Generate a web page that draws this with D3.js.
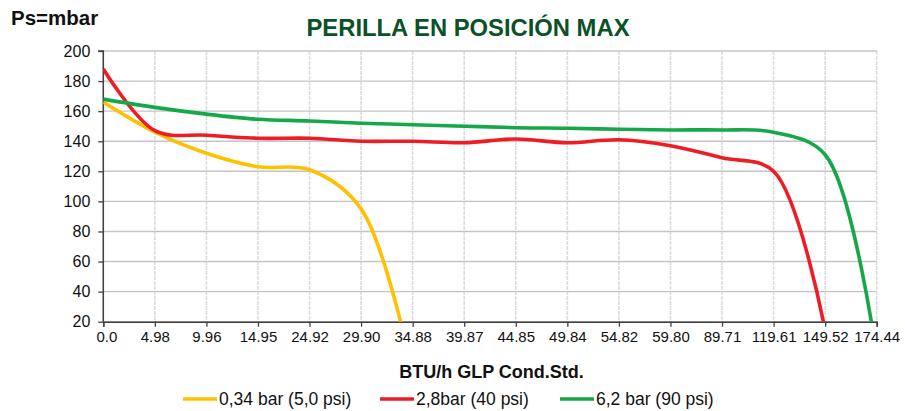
<!DOCTYPE html>
<html><head><meta charset="utf-8">
<script src="https://cdn.jsdelivr.net/npm/d3@7/dist/d3.min.js"></script>
<style>
html,body{margin:0;padding:0;background:#fff;}
svg{display:block;font-family:"Liberation Sans",Arial,sans-serif;}
</style></head>
<body>
<svg id="chart" width="905" height="411"></svg>
<script>
const categories = ["0.0","4.98","9.96","14.95","24.92","29.90","34.88","39.87","44.85","49.84","54.82","59.80","89.71","119.61","149.52","174.44"];
const yTicks = [20,40,60,80,100,120,140,160,180,200];
const seriesNames = ["0,34 bar (5,0 psi)","2,8bar (40 psi)","6,2 bar (90 psi)"];
const seriesColors = ["#FFC000","#EE1C25","#14A84A"];
const yellowValues = [166,146,132,123,121,95,-14];
const redValues = [188,147,144,142,142,140,140,139,141.5,139,141,137,129,120,14];
const greenValues = [168,162.5,158,154.6,153.5,152,151,150,149,148.6,148,147.5,147.5,146,131,-3];
const allSeries = [yellowValues, redValues, greenValues];

const svg = d3.select("#chart");
const L = 103.3, R = 876.7, T = 51, B = 321.7;
const x = d3.scaleLinear().domain([0, categories.length-1]).range([L, R]);
const y = d3.scaleLinear().domain([20, 200]).range([B, T]);

// grid
svg.append("g").selectAll("line").data(categories.map((c,i)=>i)).join("line")
  .attr("x1", d=>x(d)).attr("x2", d=>x(d)).attr("y1", T).attr("y2", B)
  .attr("stroke","#dcdcdc").attr("stroke-width",1.6).attr("stroke-dasharray","4,1");
svg.append("g").selectAll("line").data(yTicks).join("line")
  .attr("x1", L).attr("x2", R).attr("y1", d=>y(d)).attr("y2", d=>y(d))
  .attr("stroke","#c4c4c4").attr("stroke-width",1.4);

// axes
const yAxis = svg.append("g").attr("transform",`translate(${L},0)`)
  .call(d3.axisLeft(y).tickValues(yTicks).tickSize(5).tickPadding(8));
const xAxis = svg.append("g").attr("transform",`translate(0,${B})`)
  .call(d3.axisBottom(x).tickValues(categories.map((c,i)=>i)).tickFormat(i=>categories[i]).tickSize(5).tickPadding(5));
[yAxis,xAxis].forEach(a=>{
  a.select(".domain").attr("stroke","#404040").attr("stroke-width",1.5);
  a.selectAll(".tick line").attr("stroke","#404040").attr("stroke-width",1.3);
  a.selectAll("text").attr("fill","#111").attr("font-family","Liberation Sans, Arial, sans-serif");
});
yAxis.select(".domain").attr("d",`M-5,${T}H0V${B}`);
yAxis.selectAll("text").attr("font-size",16);
xAxis.selectAll("text").attr("font-size",15).attr("dx",(d,i)=>i===0?3:0);

// lines
svg.append("defs").append("clipPath").attr("id","clip")
  .append("rect").attr("x",L).attr("y",0).attr("width",R-L+5).attr("height",B);
const line = d3.line().x((d,i)=>x(i)).y(d=>y(d)).curve(d3.curveCatmullRom.alpha(0.5));
svg.append("g").attr("clip-path","url(#clip)").selectAll("path").data(allSeries).join("path")
  .attr("d", d=>line(d)).attr("fill","none")
  .attr("stroke",(d,i)=>seriesColors[i]).attr("stroke-width",3.6)
  .attr("stroke-linejoin","round").attr("stroke-linecap","butt");

// texts
svg.append("text").attr("x",11).attr("y",25).attr("font-size",20.5).attr("font-weight","bold").attr("fill","#111").text("Ps=mbar");
svg.append("text").attr("x",468).attr("y",36).attr("text-anchor","middle").attr("font-size",23).attr("font-weight","bold")
  .attr("fill","#0B5128").attr("textLength",323).attr("lengthAdjust","spacingAndGlyphs").text("PERILLA EN POSICIÓN MAX");
svg.append("text").attr("x",491.5).attr("y",378).attr("text-anchor","middle").attr("font-size",18).attr("font-weight","bold").attr("fill","#111").text("BTU/h GLP Cond.Std.");

// legend
const legX = [183, 380, 560];
const lg = svg.append("g").selectAll("g").data(seriesNames).join("g").attr("transform",(d,i)=>`translate(${legX[i]},399)`);
lg.append("line").attr("x1",0).attr("x2",34).attr("y1",0).attr("y2",0).attr("stroke",(d,i)=>seriesColors[i]).attr("stroke-width",3.6);
lg.append("text").attr("x",36).attr("y",6).attr("font-size",17.5).attr("fill","#111").text(d=>d);
</script>
</body></html>
